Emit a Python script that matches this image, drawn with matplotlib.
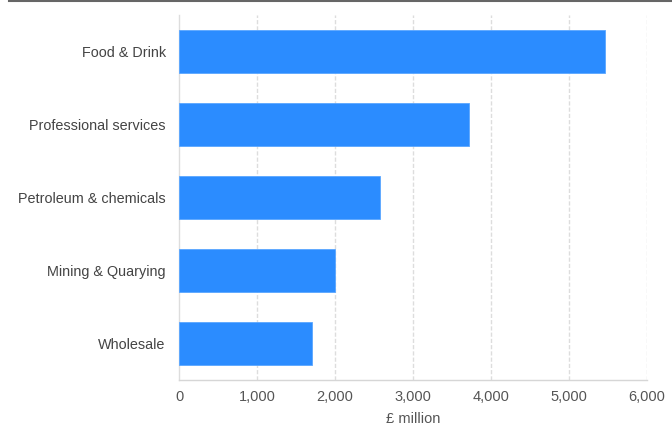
import matplotlib
matplotlib.use("Agg")
import matplotlib.pyplot as plt
from matplotlib.lines import Line2D

categories = ["Food & Drink", "Professional services", "Petroleum & chemicals",
              "Mining & Quarying", "Wholesale"]
values = [5460, 3720, 2575, 2005, 1705]
xticks = [0, 1000, 2000, 3000, 4000, 5000, 6000]
xticklabels = ["0", "1,000", "2,000", "3,000", "4,000", "5,000", "6,000"]

plt.rcParams['font.family'] = ['Liberation Sans', 'DejaVu Sans']

fig = plt.figure(figsize=(6.72, 4.28), dpi=100)
ax = fig.add_axes([179/672, 1-380/428, (647-179)/672, (380-15)/428])

pos = list(range(len(categories)))
ax.barh(pos, values, height=0.58, color='#2b8cff', edgecolor='#5aa6ff', linewidth=0.6, zorder=3)
ax.set_ylim(len(categories)-0.5, -0.5)
ax.set_xlim(0, 6000)
ax.set_yticks(pos)
ax.set_yticklabels(categories, fontsize=10.4, color='#444444')
ax.set_xticks(xticks)
ax.set_xticklabels(xticklabels, fontsize=10.5, color='#555555')
ax.tick_params(axis='both', length=0)
ax.tick_params(axis='y', pad=9.5)
ax.tick_params(axis='x', pad=7.5)
ax.set_xlabel("£ million", fontsize=10.5, color='#555555', labelpad=5.5)

for t in xticks[1:]:
    ax.axvline(t, color='#dddddd', linewidth=1, linestyle=(0, (3, 1.5)), zorder=1)

for s in ['top', 'right']:
    ax.spines[s].set_visible(False)
ax.spines['left'].set_color('#dddddd')
ax.spines['bottom'].set_color('#d6d6d6')
ax.spines['left'].set_linewidth(1)
ax.spines['bottom'].set_linewidth(1)

fig.add_artist(Line2D([9/672, 1], [1-0.8/428, 1-0.8/428], color='#666666', linewidth=1.5,
                      transform=fig.transFigure))

fig.savefig("out.png", dpi=100)
